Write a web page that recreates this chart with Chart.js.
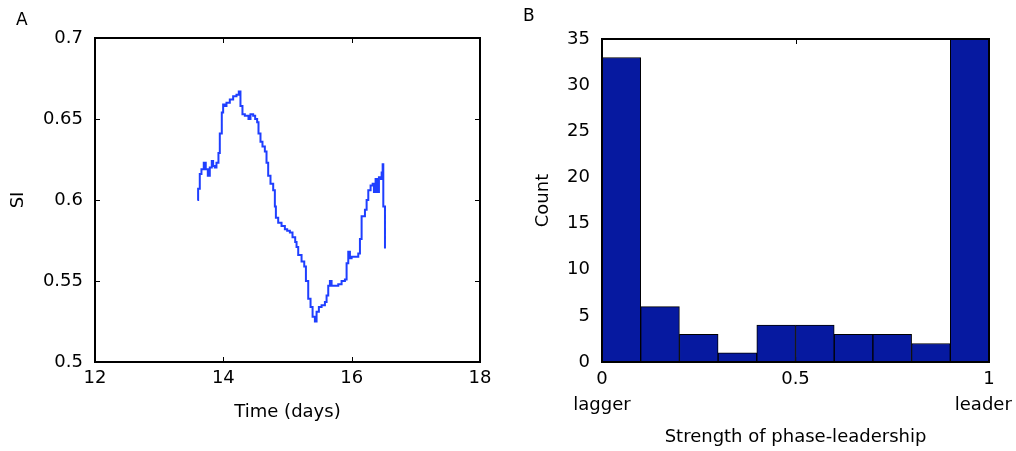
<!DOCTYPE html>
<html>
<head>
<meta charset="utf-8">
<script src="https://cdn.jsdelivr.net/npm/chart.js@4/dist/chart.umd.min.js"></script>
<style>
  html, body { margin: 0; padding: 0; background: #fff; }
  #wrap { position: relative; width: 1016px; height: 451px; font-family: "DejaVu Sans", sans-serif; }
  .panel { position: absolute; top: 0; width: 508px; height: 451px; }
  .tag { position: absolute; font-size: 17px; color: #000; line-height: 1; }
</style>
</head>
<body>
<div id="wrap">
  <div class="panel" style="left:0"><canvas id="siChart" width="508" height="451"></canvas></div>
  <div class="panel" style="left:508px"><canvas id="histChart" width="508" height="451"></canvas></div>
  <div class="tag" style="left:16px;top:11px">A</div>
  <div class="tag" style="left:523px;top:7px">B</div>
</div>
<script>
// panel A: SI over time
const siTime = [13.596, 13.607, 13.633, 13.659, 13.695, 13.726, 13.758, 13.789, 13.820, 13.841,
  13.867, 13.893, 13.924, 13.945, 13.976, 13.997, 14.023, 14.049, 14.101, 14.153,
  14.205, 14.241, 14.267, 14.298, 14.335, 14.371, 14.392, 14.423, 14.465, 14.496,
  14.527, 14.548, 14.579, 14.610, 14.647, 14.673, 14.699, 14.735, 14.777, 14.803,
  14.819, 14.855, 14.907, 14.959, 14.995, 15.037, 15.078, 15.120, 15.141, 15.167,
  15.219, 15.261, 15.287, 15.323, 15.359, 15.391, 15.427, 15.453, 15.489, 15.531,
  15.583, 15.609, 15.635, 15.661, 15.687, 15.739, 15.791, 15.843, 15.895, 15.921,
  15.947, 15.973, 15.999, 16.051, 16.103, 16.129, 16.155, 16.207, 16.233, 16.259,
  16.295, 16.327, 16.347, 16.373, 16.404, 16.425, 16.457, 16.467, 16.483, 16.493,
  16.519];
const siValue = [0.600, 0.607, 0.616, 0.619, 0.623, 0.619, 0.615, 0.620, 0.624, 0.621,
  0.620, 0.623, 0.629, 0.641, 0.654, 0.659, 0.658, 0.660, 0.662, 0.664,
  0.665, 0.667, 0.658, 0.653, 0.652, 0.652, 0.650, 0.653, 0.652, 0.650,
  0.648, 0.641, 0.636, 0.633, 0.630, 0.623, 0.615, 0.610, 0.606, 0.596,
  0.589, 0.586, 0.584, 0.582, 0.581, 0.580, 0.577, 0.574, 0.571, 0.566,
  0.562, 0.559, 0.550, 0.539, 0.534, 0.528, 0.525, 0.531, 0.534, 0.535,
  0.537, 0.541, 0.547, 0.550, 0.547, 0.547, 0.548, 0.550, 0.551, 0.561,
  0.568, 0.564, 0.565, 0.565, 0.567, 0.576, 0.590, 0.594, 0.600, 0.606,
  0.609, 0.610, 0.605, 0.613, 0.605, 0.614, 0.613, 0.617, 0.622, 0.596,
  0.570];
const siXTicks = [12, 14, 16, 18];
const siYTicks = [0.5, 0.55, 0.6, 0.65, 0.7];
const siYTickLabels = ['0.5', '0.55', '0.6', '0.65', '0.7'];

// panel B: histogram of phase-leadership strength
const binCenters = [0.05, 0.15, 0.25, 0.35, 0.45, 0.55, 0.65, 0.75, 0.85, 0.95];
const binCounts = [33, 6, 3, 1, 4, 4, 3, 3, 2, 35];
const histXTicks = [0, 0.5, 1];
const histXTickLabels = [['0', 'lagger'], ['0.5', ''], ['1', 'leader  ']];
const histYTicks = [0, 5, 10, 15, 20, 25, 30, 35];

const tickFont = { family: 'DejaVu Sans', size: 18 };
const titleFont = { family: 'DejaVu Sans', size: 18 };

// inward tick marks on all four sides plus the box
const matlabFrame = {
  id: 'matlabFrame',
  beforeDatasetsDraw(chart) {
    const { ctx, chartArea: a, scales: { x, y } } = chart;
    ctx.save();
    ctx.strokeStyle = '#000';
    ctx.lineWidth = 1;
    ctx.beginPath();
    x.ticks.forEach(t => {
      const px = Math.round(x.getPixelForValue(t.value)) + 0.5;
      ctx.moveTo(px, a.bottom); ctx.lineTo(px, a.bottom - 5);
      ctx.moveTo(px, a.top); ctx.lineTo(px, a.top + 5);
    });
    y.ticks.forEach(t => {
      const py = Math.round(y.getPixelForValue(t.value)) + 0.5;
      ctx.moveTo(a.left, py); ctx.lineTo(a.left + 5, py);
      ctx.moveTo(a.right, py); ctx.lineTo(a.right - 5, py);
    });
    ctx.stroke();
    ctx.restore();
  },
  afterDatasetsDraw(chart) {
    const { ctx, chartArea: a } = chart;
    ctx.save();
    ctx.strokeStyle = '#000';
    ctx.lineWidth = 2;
    ctx.strokeRect(a.left, a.top, a.right - a.left, a.bottom - a.top);
    ctx.restore();
  }
};

function noPad(s) { s.paddingLeft = 0; s.paddingRight = 0; s.paddingTop = 0; s.paddingBottom = 0; }

new Chart(document.getElementById('siChart'), {
  type: 'line',
  data: {
    datasets: [{
      data: siTime.map((t, i) => ({ x: t, y: siValue[i] })),
      borderColor: '#1f3fff',
      borderWidth: 2,
      pointRadius: 0,
      stepped: true,
      fill: false
    }]
  },
  options: {
    responsive: false,
    animation: false,
    layout: { padding: { top: 38, right: 28, left: 0, bottom: 0 } },
    plugins: { legend: { display: false }, tooltip: { enabled: false } },
    scales: {
      x: {
        type: 'linear', min: 12, max: 18,
        afterBuildTicks: s => { s.ticks = siXTicks.map(v => ({ value: v })); },
        afterFit: s => { s.height = 89; noPad(s); },
        grid: { display: false, drawTicks: false },
        border: { display: false },
        ticks: { padding: 6, color: '#000', font: tickFont, maxRotation: 0 },
        title: { display: true, text: 'Time (days)', color: '#000', font: titleFont, padding: { top: 0, bottom: 28 } }
      },
      y: {
        type: 'linear', min: 0.5, max: 0.7,
        afterBuildTicks: s => { s.ticks = siYTicks.map(v => ({ value: v })); },
        afterFit: s => { s.width = 95; noPad(s); },
        grid: { display: false, drawTicks: false },
        border: { display: false },
        ticks: { padding: 12, color: '#000', font: tickFont, callback: (v, i) => siYTickLabels[i] },
        title: { display: true, text: 'SI', color: '#000', font: titleFont, padding: { top: 8, bottom: 0 } }
      }
    }
  },
  plugins: [matlabFrame]
});

new Chart(document.getElementById('histChart'), {
  type: 'bar',
  data: {
    datasets: [{
      data: binCenters.map((c, i) => ({ x: c, y: binCounts[i] })),
      backgroundColor: '#0619a0',
      borderColor: '#000',
      borderWidth: 1,
      borderSkipped: false,
      barPercentage: 1,
      categoryPercentage: 1,
      grouped: false
    }]
  },
  options: {
    responsive: false,
    animation: false,
    layout: { padding: { top: 39, right: 27, left: 0, bottom: 0 } },
    plugins: { legend: { display: false }, tooltip: { enabled: false } },
    scales: {
      x: {
        type: 'linear', min: 0, max: 1, offset: false,
        afterBuildTicks: s => { s.ticks = histXTicks.map(v => ({ value: v })); },
        afterFit: s => { s.height = 89; noPad(s); },
        grid: { display: false, drawTicks: false, offset: false },
        border: { display: false },
        ticks: { padding: 4, color: '#000', font: { ...tickFont, lineHeight: 1.45 }, maxRotation: 0,
          callback: (v, i) => histXTickLabels[i] },
        title: { display: true, text: 'Strength of phase-leadership', color: '#000', font: titleFont, padding: { top: 0, bottom: 3 } }
      },
      y: {
        type: 'linear', min: 0, max: 35,
        afterBuildTicks: s => { s.ticks = histYTicks.map(v => ({ value: v })); },
        afterFit: s => { s.width = 94; noPad(s); },
        grid: { display: false, drawTicks: false },
        border: { display: false },
        ticks: { padding: 12, color: '#000', font: tickFont },
        title: { display: true, text: 'Count', color: '#000', font: titleFont, padding: { top: 25, bottom: 0 } }
      }
    }
  },
  plugins: [matlabFrame]
});
</script>
</body>
</html>
